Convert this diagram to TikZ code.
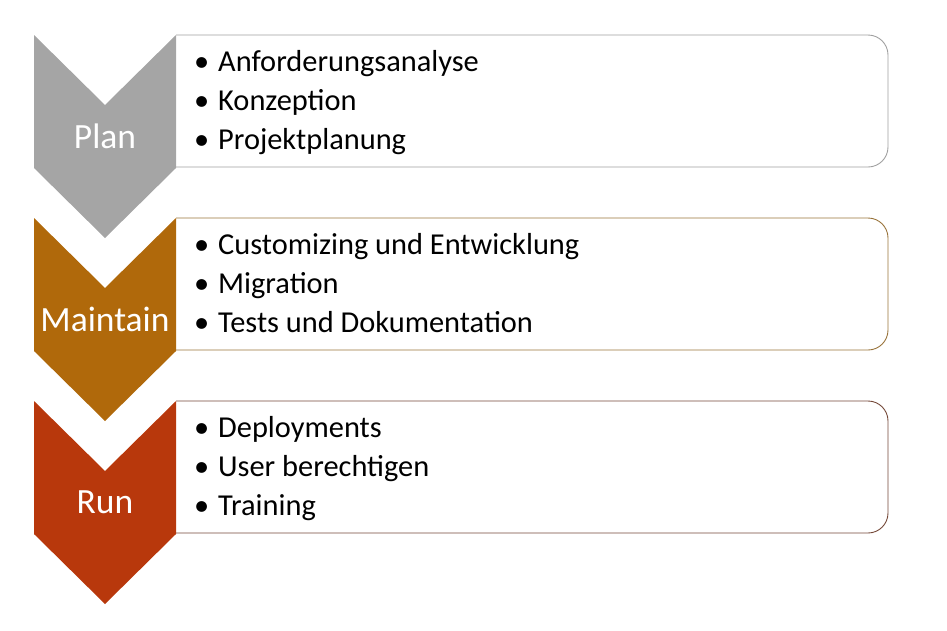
\documentclass[tikz,border=0pt]{standalone}
\usepackage{fontspec}
\setmainfont{Carlito}
\definecolor{cplan}{HTML}{A5A5A5}
\definecolor{cmaint}{HTML}{B0690B}
\definecolor{crun}{HTML}{B8380C}
\definecolor{bplan}{HTML}{A0A0A0}
\definecolor{bmaint}{HTML}{98733A}
\definecolor{brun}{HTML}{744838}
\tikzset{
  chevshape/.style={fill=#1, draw=none},
  stagebox/.style={draw=#1, line width=0.9pt, rounded corners=20pt},
  stagelbl/.style={text=white, inner sep=0pt, font=\fontsize{35.5}{42}\selectfont},
  itemtxt/.style={anchor=base west, inner sep=0pt, font=\fontsize{30.4}{36}\selectfont},
}
\newcommand{\bul}{\makebox[24pt][l]{•}}
\begin{document}
\begin{tikzpicture}[x=1pt,y=-1pt]
\useasboundingbox (0,0) rectangle (947,630);
\foreach \t/\c/\b in {35/cplan/bplan, 218/cmaint/bmaint, 401/crun/brun}{
  \draw[stagebox=\b] (176,\t) -- (888,\t) -- (888,\t+132) -- (176,\t+132);
  \fill[chevshape=\c] (34,\t) -- (105,\t+70) -- (176,\t) -- (176,\t+133) -- (105,\t+203) -- (34,\t+133) -- cycle;
}
\node[stagelbl] (plan) at (105,136) {Plan};
\node[stagelbl] (maint) at (105,319) {Maintain};
\node[stagelbl] (run) at (105,502) {Run};
\node[itemtxt] (p1) at (194,71) {\bul Anforderungsanalyse};
\node[itemtxt] (p2) at (194,110) {\bul Konzeption};
\node[itemtxt] (p3) at (194,149) {\bul Projektplanung};
\node[itemtxt] (m1) at (194,254) {\bul Customizing und Entwicklung};
\node[itemtxt] (m2) at (194,293) {\bul Migration};
\node[itemtxt] (m3) at (194,332) {\bul Tests und Dokumentation};
\node[itemtxt] (r1) at (194,437) {\bul Deployments};
\node[itemtxt] (r2) at (194,476) {\bul User berechtigen};
\node[itemtxt] (r3) at (194,515) {\bul Training};
\end{tikzpicture}
\end{document}
